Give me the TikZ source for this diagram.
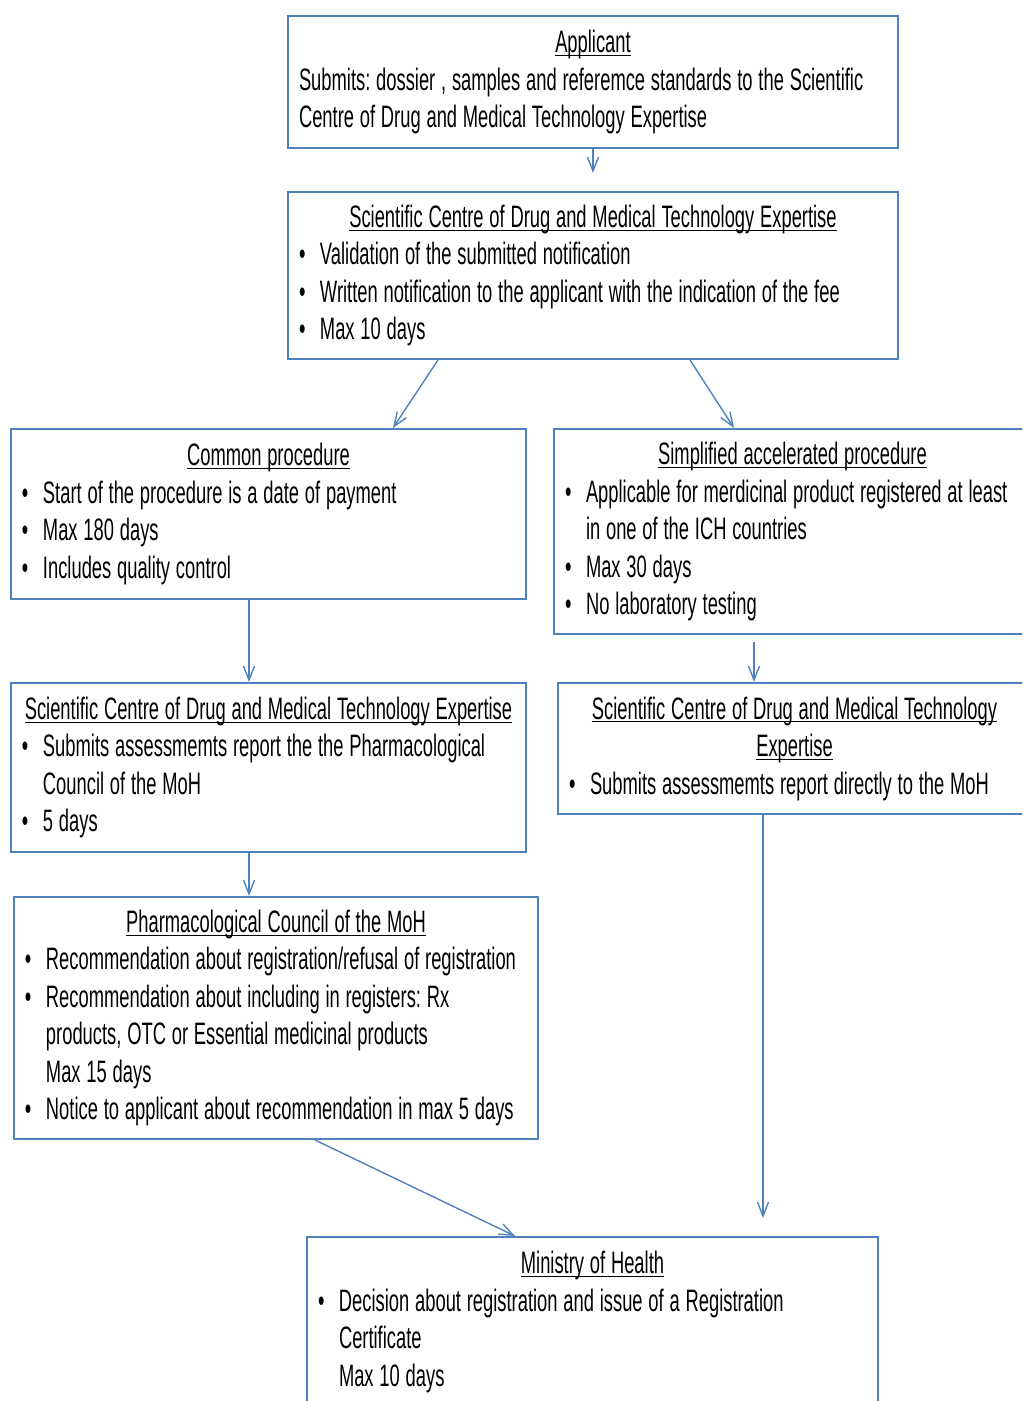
\documentclass[tikz,border=0pt]{standalone}
\usepackage{fontspec}
\setmainfont{Liberation Sans}[FakeStretch=0.592]
\usetikzlibrary{arrows.meta,calc}
\definecolor{boxblue}{RGB}{79,129,189}
\hyphenpenalty=10000
\frenchspacing
\newcommand{\ttl}[1]{\makebox[\linewidth]{\underline{\raisebox{0pt}[\height][0pt]{#1}}}}
\newcommand{\itm}{\makebox[10.5pt][l]{\textbullet}}
\newcommand{\cnt}{\hspace*{10.5pt}}
\tikzset{
	box/.style={draw=boxblue, line width=1pt, anchor=north west, inner xsep=5.5pt, inner ysep=0pt, align=left, font=\fontsize{15.5}{18.75}\selectfont,
		execute at begin node={\spaceskip=2.9pt plus 1pt minus 0.5pt\relax}},
	arr/.style={draw=boxblue, line width=0.7pt, -{Straight Barb[length=7pt,width=5.5pt]}}
}

\begin{document}
\begin{tikzpicture}[x=0.5pt, y=-0.5pt]
			%%%%% START %%%%%
			\useasboundingbox (0, 0) rectangle (1022, 1401);
			\clip (0, 0) rectangle (1022, 1401);
			
			\node[box, minimum width=305pt, minimum height=66pt, text width=294pt] (appl) at (287, 15) {\ttl{Applicant}\\
				Submits: dossier , samples and referemce standards to the Scientific\\
				Centre of Drug and Medical Technology Expertise};
			
			\node[box, minimum width=305pt, minimum height=83.5pt, text width=294pt] (sccde) at (287, 191) {\ttl{Scientific Centre of Drug and Medical Technology Expertise}\\
				\itm Validation  of the submitted notification\\
				\itm Written notification to the applicant with the indication of the fee\\
				\itm Max 10 days};
			
			\node[box, minimum width=257.5pt, minimum height=85pt, text width=246.5pt] (common) at (10, 428) {\ttl{Common procedure}\\
				\itm Start of the procedure is a date of payment\\
				\itm Max 180 days\\
				\itm Includes quality control};
			
			\node[box, minimum width=238.5pt, minimum height=102.5pt, text width=227.5pt] (simpl) at (553, 428) {\ttl{Simplified accelerated procedure}\\
				\itm Applicable for merdicinal product registered at least\\
				\cnt in one of the ICH countries\\
				\itm Max 30 days\\
				\itm No laboratory testing};
			
			\node[box, minimum width=257.5pt, minimum height=84.5pt, text width=246.5pt] (scleft) at (10, 682) {\ttl{Scientific Centre of Drug and Medical Technology Expertise}\\
				\itm Submits assessmemts report the the Pharmacological\\
				\cnt Council of the MoH\\
				\itm 5 days};
			
			\node[box, minimum width=236.5pt, minimum height=65.5pt, text width=225.5pt] (scright) at (557, 682) {\ttl{Scientific Centre of Drug and Medical Technology}\\
				\ttl{Expertise}\\
				\itm Submits assessmemts report directly to the MoH};
			
			\node[box, minimum width=262pt, minimum height=121pt, text width=251pt] (pharm) at (13, 896) {\ttl{Pharmacological Council of the MoH}\\
				\itm Recommendation about registration/refusal of registration\\
				\itm Recommendation about including in registers: Rx\\
				\cnt products, OTC or Essential medicinal products\\
				\cnt Max 15 days\\
				\itm Notice to applicant about recommendation in max 5 days};
			
			\node[box, minimum width=285.5pt, minimum height=85pt, text width=274.5pt] (moh) at (306, 1236) {\ttl{Ministry of Health}\\
				\itm Decision about registration and issue of a Registration\\
				\cnt Certificate\\
				\cnt Max 10 days};
			
			% free ends
			\coordinate (applend) at ($(appl.south)!0.57!(sccde.north)$);
			\coordinate (scrend) at ([xshift=228.5pt, yshift=9pt]moh.north west);
			
			\draw[arr] (appl.south) -- (applend);
			\draw[arr] ([xshift=75.5pt]sccde.south west) -- ([xshift=191.5pt]common.north west);
			\draw[arr] ([xshift=-104.5pt]sccde.south east) -- ([xshift=90.5pt]simpl.north west);
			\draw[arr] ([xshift=119.5pt]common.south west) -- ([xshift=119.5pt]scleft.north west);
			\draw[arr] ([xshift=100.5pt, yshift=-3.5pt]simpl.south west) -- ([xshift=98.5pt]scright.north west);
			\draw[arr] ([xshift=119.5pt]scleft.south west) -- ([xshift=118pt]pharm.north west);
			\draw[arr] ([xshift=151pt]pharm.south west) -- ([xshift=104.5pt]moh.north west);
			\draw[arr] ([xshift=103pt]scright.south west) -- (scrend);
			
			%%%%% END %%%%%
		\end{tikzpicture}
\end{document}
